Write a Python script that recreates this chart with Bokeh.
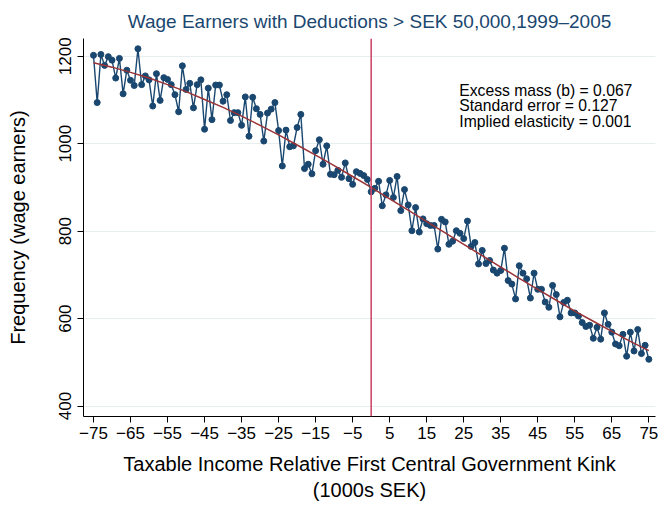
from bokeh.plotting import figure
from bokeh.models import Span, Label, Range1d, FixedTicker
from bokeh.embed import file_html
from bokeh.resources import INLINE

# Taxable income relative to the first central government kink (1000s SEK)
income_k = list(range(-75, 76))

# Number of wage earners in each 1000 SEK bin
wage_earners = [
    1202, 1094, 1204, 1179, 1199, 1191, 1150, 1195, 1114, 1168,
    1145, 1133, 1217, 1135, 1155, 1146, 1086, 1160, 1099, 1151,
    1147, 1135, 1112, 1073, 1178, 1124, 1138, 1082, 1135, 1146,
    1033, 1127, 1055, 1134, 1134, 1097, 1112, 1053, 1071, 1071,
    1042, 1107, 1017, 1106, 1080, 1067, 1006, 1070, 1079, 1094,
    1030, 949, 1031, 993, 995, 1037, 1067, 943, 953, 931,
    984, 1009, 953, 995, 930, 929, 939, 923, 956, 920,
    907, 936, 932, 927, 918, 890, 898, 914, 858, 883,
    916, 877, 925, 847, 895, 860, 801, 854, 798, 828,
    817, 813, 813, 759, 827, 821, 770, 777, 801, 795,
    783, 823, 765, 774, 725, 756, 726, 733, 711, 704,
    710, 761, 687, 679, 645, 721, 704, 691, 647, 704,
    667, 667, 638, 626, 676, 655, 604, 637, 642, 613,
    613, 606, 591, 582, 585, 555, 580, 553, 613, 587,
    569, 542, 538, 564, 514, 569, 526, 575, 520, 539,
    507,
]

# Counterfactual polynomial fit
fit_x = list(range(-75, 80, 5))
fit_y = [
    1185, 1175, 1163, 1150, 1135, 1119, 1101, 1083, 1063, 1042,
    1020, 997, 974, 950, 925, 900, 874, 848, 822, 796,
    770, 744, 718, 692, 667, 642, 617, 594, 571, 548,
    527,
]

x_ticks = list(range(-75, 80, 10))
y_ticks = [400, 600, 800, 1000, 1200]
kink = 0
stats = [
    "Excess mass (b) = 0.067",
    "Standard error = 0.127",
    "Implied elasticity = 0.001",
]

FONT = "Liberation Sans"
NAVY = "#1a476f"

p = figure(
    width=659, height=505,
    output_backend="svg", toolbar_location=None,
    x_range=Range1d(-77.7, 76.8), y_range=Range1d(376.2, 1240.5),
    min_border_left=83, min_border_right=4,
    min_border_top=38, min_border_bottom=89,
    title="Wage Earners with Deductions > SEK 50,000,1999\u20132005",
)
p.outline_line_color = None
p.background_fill_color = "white"
p.border_fill_color = "white"

p.title.align = "center"
p.title.text_font = FONT
p.title.text_font_size = "19px"
p.title.text_font_style = "normal"
p.title.text_color = NAVY
p.title.standoff = 13

# Axes
p.xaxis.ticker = FixedTicker(ticks=x_ticks)
p.xaxis.major_label_overrides = {t: (f"\u2212{-t}" if t < 0 else str(t)) for t in x_ticks}
p.yaxis.ticker = FixedTicker(ticks=y_ticks)
p.yaxis.major_label_orientation = "vertical"
for ax in (p.xaxis, p.yaxis):
    ax.axis_line_color = "black"
    ax.axis_line_width = 1
    ax.major_tick_line_color = "black"
    ax.major_tick_out = 6
    ax.major_tick_in = 0
    ax.minor_tick_line_color = None
    ax.major_label_text_font = FONT
    ax.major_label_text_font_size = "17px"
    ax.major_label_text_color = "black"
    ax.axis_label_text_font = FONT
    ax.axis_label_text_font_size = "20px"
    ax.axis_label_text_font_style = "normal"
    ax.axis_label_text_color = "black"
p.xaxis.major_label_standoff = 4
p.yaxis.major_label_standoff = 6
p.xaxis.axis_label = "Taxable Income Relative First Central Government Kink\n(1000s SEK)"
p.yaxis.axis_label = "Frequency (wage earners)"
p.xaxis.axis_label_standoff = 11
p.yaxis.axis_label_standoff = 28

p.xgrid.grid_line_color = None
p.ygrid.grid_line_color = "#e6eef0"
p.ygrid.grid_line_width = 1

# Observed distribution
p.line(income_k, wage_earners, line_color=NAVY, line_width=1.4)
p.scatter(income_k, wage_earners, size=6, fill_color=NAVY, line_color=NAVY)

# Fitted counterfactual
p.line(fit_x, fit_y, line_color="#9a3236", line_width=1.5)

# Kink location
p.add_layout(Span(location=kink, dimension="height", line_color="#cf4a6d", line_width=1.6))

# Estimate summary, one line per statistic
stat_x = 23.8
stat_y = [1121.6, 1086.2, 1050.7]
for s, yy in zip(stats, stat_y):
    p.add_layout(Label(
        x=stat_x, y=yy,
        text=s, text_font=FONT, text_font_size="15.7px",
        text_baseline="middle", text_align="left", text_color="black",
    ))

open("out.html", "w").write(file_html(p, INLINE))
